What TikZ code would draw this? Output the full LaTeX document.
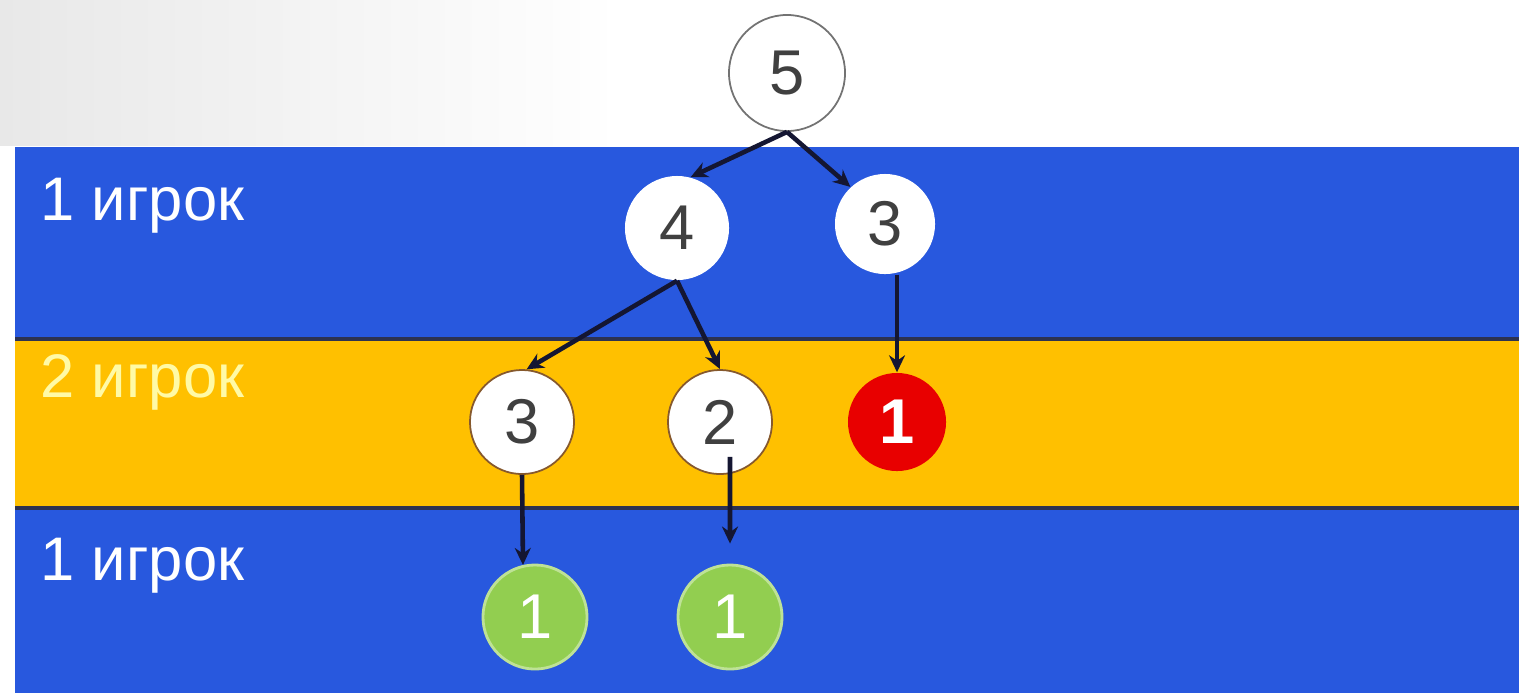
\documentclass[tikz,border=0pt]{standalone}
\usepackage{fontspec}
\setmainfont{Liberation Sans}
\usetikzlibrary{arrows.meta}
\definecolor{bandblue}{RGB}{40,88,222}
\definecolor{bandyellow}{RGB}{255,192,0}
\definecolor{losered}{RGB}{232,0,0}
\definecolor{wingreen}{RGB}{146,206,80}
\definecolor{digitgray}{RGB}{64,64,64}
\definecolor{seamline}{RGB}{45,50,80}
\definecolor{arrowink}{RGB}{20,22,50}
\begin{document}
\begin{tikzpicture}[x=0.01cm,y=-0.01cm,
  heap/.style={circle, minimum size=1.04cm, inner sep=0pt, fill=white, text=digitgray,
    font=\fontsize{18}{20}\selectfont},
  loss/.style={heap, fill=losered, text=white, font=\fontsize{18}{20}\selectfont\bfseries},
  win/.style={heap, fill=wingreen, draw=wingreen!60!white, line width=0.8pt, text=white},
  move/.style={-{Stealth[length=0.17cm,width=0.16cm]}, line width=1.3pt, draw=arrowink},
  who/.style={anchor=base west, inner sep=0pt, font=\fontsize{17.5}{20}\selectfont, text=white}]
\useasboundingbox (0,0) rectangle (1519,693);
% background
\fill[white] (0,0) rectangle (1519,693);
\shade[left color=black!9, right color=white] (0,0) rectangle (620,145);
\fill[bandblue] (15,147) rectangle (1519,339);
\fill[bandyellow] (15,339) rectangle (1519,508);
\fill[bandblue] (15,508) rectangle (1519,693);
\draw[seamline, line width=0.9pt] (15,339) -- (1519,339);
\draw[seamline, line width=0.9pt] (15,508) -- (1519,508);
% players
\node[who] (p1) at (40,220) {1 игрок};
\node[who, text=yellow!35!white] (p2) at (40,397) {2 игрок};
\node[who] (p3) at (40,580) {1 игрок};
% heaps
\node[heap, minimum size=1.16cm, draw=black!55, line width=0.5pt] (n5) at (787,73) {5};
\node[heap] (n4) at (677,228) {4};
\node[heap, minimum size=1.0cm] (n3a) at (885,224) {3};
\node[heap, draw=brown!70!black, line width=0.5pt] (n3b) at (522,422) {3};
\node[heap, draw=brown!70!black, line width=0.5pt] (n2) at (720,422) {2};
\node[loss, minimum size=0.98cm] (r1) at (897,422) {1};
\node[win] (g1) at (535,617) {1};
\node[win] (g2) at (730,617) {1};
% moves
\draw[move] (n5.south) -- (n4.75);
\draw[move] (n5.south) -- (n3a.133);
\draw[move] (n4.south) -- (n3b.85);
\draw[move] (n4.south) -- (n2.north);
\draw[move] (r1.north |- n3a.south) -- (r1.north);
\draw[move] (n3b.south) -- (g1.103);
\draw[move] ([xshift=0.1cm,yshift=0.18cm]n2.south) -- ([yshift=0.2cm]g2.north);
\end{tikzpicture}
\end{document}
